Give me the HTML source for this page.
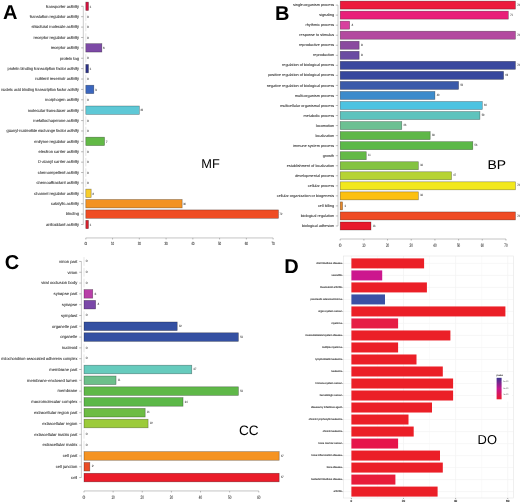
<!DOCTYPE html><html><head><meta charset="utf-8"><style>html,body{margin:0;padding:0;background:#fff;width:520px;height:502px;overflow:hidden}svg{display:block;will-change:transform}text{font-family:"Liberation Sans",sans-serif;text-rendering:geometricPrecision}.lb{stroke:#2a2a2a;stroke-width:0.06px}</style></head><body>
<svg width="520" height="502" viewBox="0 0 520 502">
<rect width="520" height="502" fill="#fff"/>
<line x1="83.3" y1="6.3" x2="83.3" y2="224.49" stroke="#b5b5b5" stroke-width="0.7"/>
<line x1="81.1" y1="6.3" x2="83.3" y2="6.3" stroke="#8a8a8a" stroke-width="0.6"/>
<text class="lb" x="79" y="7.6" font-size="4.05" text-anchor="end" fill="#2a2a2a">transporter activity</text>
<rect x="85.8" y="2.1" width="2.68" height="8.4" fill="#d3123f" stroke="rgba(0,0,0,0.42)" stroke-width="0.6"/>
<text x="89.58" y="7.5" font-size="3.2" fill="#444" stroke="#444" stroke-width="0.08">1</text>
<line x1="81.1" y1="16.69" x2="83.3" y2="16.69" stroke="#8a8a8a" stroke-width="0.6"/>
<text class="lb" x="79" y="17.99" font-size="4.05" text-anchor="end" fill="#2a2a2a">translation regulator activity</text>
<line x1="85.8" y1="12.49" x2="85.8" y2="20.89" stroke="#ccc" stroke-width="0.5"/>
<text x="86.9" y="17.89" font-size="3.2" fill="#444" stroke="#444" stroke-width="0.08">0</text>
<line x1="81.1" y1="27.08" x2="83.3" y2="27.08" stroke="#8a8a8a" stroke-width="0.6"/>
<text class="lb" x="79" y="28.38" font-size="4.05" text-anchor="end" fill="#2a2a2a">structural molecule activity</text>
<line x1="85.8" y1="22.88" x2="85.8" y2="31.28" stroke="#ccc" stroke-width="0.5"/>
<text x="86.9" y="28.28" font-size="3.2" fill="#444" stroke="#444" stroke-width="0.08">0</text>
<line x1="81.1" y1="37.47" x2="83.3" y2="37.47" stroke="#8a8a8a" stroke-width="0.6"/>
<text class="lb" x="79" y="38.77" font-size="4.05" text-anchor="end" fill="#2a2a2a">receptor regulator activity</text>
<line x1="85.8" y1="33.27" x2="85.8" y2="41.67" stroke="#ccc" stroke-width="0.5"/>
<text x="86.9" y="38.67" font-size="3.2" fill="#444" stroke="#444" stroke-width="0.08">0</text>
<line x1="81.1" y1="47.86" x2="83.3" y2="47.86" stroke="#8a8a8a" stroke-width="0.6"/>
<text class="lb" x="79" y="49.16" font-size="4.05" text-anchor="end" fill="#2a2a2a">receptor activity</text>
<rect x="85.8" y="43.66" width="16.06" height="8.4" fill="#7d4aa6" stroke="rgba(0,0,0,0.42)" stroke-width="0.6"/>
<text x="102.96" y="49.06" font-size="3.2" fill="#444" stroke="#444" stroke-width="0.08">6</text>
<line x1="81.1" y1="58.25" x2="83.3" y2="58.25" stroke="#8a8a8a" stroke-width="0.6"/>
<text class="lb" x="79" y="59.55" font-size="4.05" text-anchor="end" fill="#2a2a2a">protein tag</text>
<line x1="85.8" y1="54.05" x2="85.8" y2="62.45" stroke="#ccc" stroke-width="0.5"/>
<text x="86.9" y="59.45" font-size="3.2" fill="#444" stroke="#444" stroke-width="0.08">0</text>
<line x1="81.1" y1="68.64" x2="83.3" y2="68.64" stroke="#8a8a8a" stroke-width="0.6"/>
<text class="lb" x="79" y="69.94" font-size="4.05" text-anchor="end" fill="#2a2a2a" textLength="71.5" lengthAdjust="spacingAndGlyphs">protein binding transcription factor activity</text>
<rect x="85.8" y="64.44" width="2.68" height="8.4" fill="#2b3187" stroke="rgba(0,0,0,0.42)" stroke-width="0.6"/>
<text x="89.58" y="69.84" font-size="3.2" fill="#444" stroke="#444" stroke-width="0.08">1</text>
<line x1="81.1" y1="79.03" x2="83.3" y2="79.03" stroke="#8a8a8a" stroke-width="0.6"/>
<text class="lb" x="79" y="80.33" font-size="4.05" text-anchor="end" fill="#2a2a2a">nutrient reservoir activity</text>
<line x1="85.8" y1="74.83" x2="85.8" y2="83.23" stroke="#ccc" stroke-width="0.5"/>
<text x="86.9" y="80.23" font-size="3.2" fill="#444" stroke="#444" stroke-width="0.08">0</text>
<line x1="81.1" y1="89.42" x2="83.3" y2="89.42" stroke="#8a8a8a" stroke-width="0.6"/>
<text class="lb" x="79" y="90.72" font-size="4.05" text-anchor="end" fill="#2a2a2a" textLength="77.8" lengthAdjust="spacingAndGlyphs">nucleic acid binding transcription factor activity</text>
<rect x="85.8" y="85.22" width="8.03" height="8.4" fill="#3a66be" stroke="rgba(0,0,0,0.42)" stroke-width="0.6"/>
<text x="94.93" y="90.62" font-size="3.2" fill="#444" stroke="#444" stroke-width="0.08">3</text>
<line x1="81.1" y1="99.81" x2="83.3" y2="99.81" stroke="#8a8a8a" stroke-width="0.6"/>
<text class="lb" x="79" y="101.11" font-size="4.05" text-anchor="end" fill="#2a2a2a">morphogen activity</text>
<line x1="85.8" y1="95.61" x2="85.8" y2="104.01" stroke="#ccc" stroke-width="0.5"/>
<text x="86.9" y="101.01" font-size="3.2" fill="#444" stroke="#444" stroke-width="0.08">0</text>
<line x1="81.1" y1="110.2" x2="83.3" y2="110.2" stroke="#8a8a8a" stroke-width="0.6"/>
<text class="lb" x="79" y="111.5" font-size="4.05" text-anchor="end" fill="#2a2a2a">molecular transducer activity</text>
<rect x="85.8" y="106" width="53.52" height="8.4" fill="#5ec8d6" stroke="rgba(0,0,0,0.42)" stroke-width="0.6"/>
<text x="140.42" y="111.4" font-size="3.2" fill="#444" stroke="#444" stroke-width="0.08" textLength="2.7" lengthAdjust="spacingAndGlyphs">20</text>
<line x1="81.1" y1="120.59" x2="83.3" y2="120.59" stroke="#8a8a8a" stroke-width="0.6"/>
<text class="lb" x="79" y="121.89" font-size="4.05" text-anchor="end" fill="#2a2a2a">metallochaperone activity</text>
<line x1="85.8" y1="116.39" x2="85.8" y2="124.79" stroke="#ccc" stroke-width="0.5"/>
<text x="86.9" y="121.79" font-size="3.2" fill="#444" stroke="#444" stroke-width="0.08">0</text>
<line x1="81.1" y1="130.98" x2="83.3" y2="130.98" stroke="#8a8a8a" stroke-width="0.6"/>
<text class="lb" x="79" y="132.28" font-size="4.05" text-anchor="end" fill="#2a2a2a" textLength="72.5" lengthAdjust="spacingAndGlyphs">guanyl-nucleotide exchange factor activity</text>
<line x1="85.8" y1="126.78" x2="85.8" y2="135.18" stroke="#ccc" stroke-width="0.5"/>
<text x="86.9" y="132.18" font-size="3.2" fill="#444" stroke="#444" stroke-width="0.08">0</text>
<line x1="81.1" y1="141.37" x2="83.3" y2="141.37" stroke="#8a8a8a" stroke-width="0.6"/>
<text class="lb" x="79" y="142.67" font-size="4.05" text-anchor="end" fill="#2a2a2a">enzyme regulator activity</text>
<rect x="85.8" y="137.17" width="18.73" height="8.4" fill="#62b946" stroke="rgba(0,0,0,0.42)" stroke-width="0.6"/>
<text x="105.63" y="142.57" font-size="3.2" fill="#444" stroke="#444" stroke-width="0.08">7</text>
<line x1="81.1" y1="151.76" x2="83.3" y2="151.76" stroke="#8a8a8a" stroke-width="0.6"/>
<text class="lb" x="79" y="153.06" font-size="4.05" text-anchor="end" fill="#2a2a2a">electron carrier activity</text>
<line x1="85.8" y1="147.56" x2="85.8" y2="155.96" stroke="#ccc" stroke-width="0.5"/>
<text x="86.9" y="152.96" font-size="3.2" fill="#444" stroke="#444" stroke-width="0.08">0</text>
<line x1="81.1" y1="162.15" x2="83.3" y2="162.15" stroke="#8a8a8a" stroke-width="0.6"/>
<text class="lb" x="79" y="163.45" font-size="4.05" text-anchor="end" fill="#2a2a2a">D-alanyl carrier activity</text>
<line x1="85.8" y1="157.95" x2="85.8" y2="166.35" stroke="#ccc" stroke-width="0.5"/>
<text x="86.9" y="163.35" font-size="3.2" fill="#444" stroke="#444" stroke-width="0.08">0</text>
<line x1="81.1" y1="172.54" x2="83.3" y2="172.54" stroke="#8a8a8a" stroke-width="0.6"/>
<text class="lb" x="79" y="173.84" font-size="4.05" text-anchor="end" fill="#2a2a2a">chemorepellent activity</text>
<line x1="85.8" y1="168.34" x2="85.8" y2="176.74" stroke="#ccc" stroke-width="0.5"/>
<text x="86.9" y="173.74" font-size="3.2" fill="#444" stroke="#444" stroke-width="0.08">0</text>
<line x1="81.1" y1="182.93" x2="83.3" y2="182.93" stroke="#8a8a8a" stroke-width="0.6"/>
<text class="lb" x="79" y="184.23" font-size="4.05" text-anchor="end" fill="#2a2a2a">chemoattractant activity</text>
<line x1="85.8" y1="178.73" x2="85.8" y2="187.13" stroke="#ccc" stroke-width="0.5"/>
<text x="86.9" y="184.13" font-size="3.2" fill="#444" stroke="#444" stroke-width="0.08">0</text>
<line x1="81.1" y1="193.32" x2="83.3" y2="193.32" stroke="#8a8a8a" stroke-width="0.6"/>
<text class="lb" x="79" y="194.62" font-size="4.05" text-anchor="end" fill="#2a2a2a">channel regulator activity</text>
<rect x="85.8" y="189.12" width="5.35" height="8.4" fill="#f7cd2c" stroke="rgba(0,0,0,0.42)" stroke-width="0.6"/>
<text x="92.25" y="194.52" font-size="3.2" fill="#444" stroke="#444" stroke-width="0.08">2</text>
<line x1="81.1" y1="203.71" x2="83.3" y2="203.71" stroke="#8a8a8a" stroke-width="0.6"/>
<text class="lb" x="79" y="205.01" font-size="4.05" text-anchor="end" fill="#2a2a2a">catalytic activity</text>
<rect x="85.8" y="199.51" width="96.34" height="8.4" fill="#f39222" stroke="rgba(0,0,0,0.42)" stroke-width="0.6"/>
<text x="183.24" y="204.91" font-size="3.2" fill="#444" stroke="#444" stroke-width="0.08" textLength="2.7" lengthAdjust="spacingAndGlyphs">36</text>
<line x1="81.1" y1="214.1" x2="83.3" y2="214.1" stroke="#8a8a8a" stroke-width="0.6"/>
<text class="lb" x="79" y="215.4" font-size="4.05" text-anchor="end" fill="#2a2a2a">binding</text>
<rect x="85.8" y="209.9" width="192.67" height="8.4" fill="#ef4d24" stroke="rgba(0,0,0,0.42)" stroke-width="0.6"/>
<text x="279.57" y="215.3" font-size="3.2" fill="#444" stroke="#444" stroke-width="0.08" textLength="2.7" lengthAdjust="spacingAndGlyphs">72</text>
<line x1="81.1" y1="224.49" x2="83.3" y2="224.49" stroke="#8a8a8a" stroke-width="0.6"/>
<text class="lb" x="79" y="225.79" font-size="4.05" text-anchor="end" fill="#2a2a2a">antioxidant activity</text>
<rect x="85.8" y="220.29" width="2.68" height="8.4" fill="#d7202c" stroke="rgba(0,0,0,0.42)" stroke-width="0.6"/>
<text x="89.58" y="225.69" font-size="3.2" fill="#444" stroke="#444" stroke-width="0.08">1</text>
<line x1="85.8" y1="237.95" x2="273.12" y2="237.95" stroke="#c4c4c4" stroke-width="1.0"/>
<line x1="85.8" y1="237.95" x2="85.8" y2="239.45" stroke="#8a8a8a" stroke-width="0.6"/>
<text class="lb" x="85.8" y="244.85" font-size="4.6" text-anchor="middle" fill="#2a2a2a">0</text>
<line x1="112.56" y1="237.95" x2="112.56" y2="239.45" stroke="#8a8a8a" stroke-width="0.6"/>
<text class="lb" x="112.56" y="244.85" font-size="4.6" text-anchor="middle" fill="#2a2a2a" textLength="3.3" lengthAdjust="spacingAndGlyphs">10</text>
<line x1="139.32" y1="237.95" x2="139.32" y2="239.45" stroke="#8a8a8a" stroke-width="0.6"/>
<text class="lb" x="139.32" y="244.85" font-size="4.6" text-anchor="middle" fill="#2a2a2a" textLength="3.3" lengthAdjust="spacingAndGlyphs">20</text>
<line x1="166.08" y1="237.95" x2="166.08" y2="239.45" stroke="#8a8a8a" stroke-width="0.6"/>
<text class="lb" x="166.08" y="244.85" font-size="4.6" text-anchor="middle" fill="#2a2a2a" textLength="3.3" lengthAdjust="spacingAndGlyphs">30</text>
<line x1="192.84" y1="237.95" x2="192.84" y2="239.45" stroke="#8a8a8a" stroke-width="0.6"/>
<text class="lb" x="192.84" y="244.85" font-size="4.6" text-anchor="middle" fill="#2a2a2a" textLength="3.3" lengthAdjust="spacingAndGlyphs">40</text>
<line x1="219.6" y1="237.95" x2="219.6" y2="239.45" stroke="#8a8a8a" stroke-width="0.6"/>
<text class="lb" x="219.6" y="244.85" font-size="4.6" text-anchor="middle" fill="#2a2a2a" textLength="3.3" lengthAdjust="spacingAndGlyphs">50</text>
<line x1="246.36" y1="237.95" x2="246.36" y2="239.45" stroke="#8a8a8a" stroke-width="0.6"/>
<text class="lb" x="246.36" y="244.85" font-size="4.6" text-anchor="middle" fill="#2a2a2a" textLength="3.3" lengthAdjust="spacingAndGlyphs">60</text>
<line x1="273.12" y1="237.95" x2="273.12" y2="239.45" stroke="#8a8a8a" stroke-width="0.6"/>
<text class="lb" x="273.12" y="244.85" font-size="4.6" text-anchor="middle" fill="#2a2a2a" textLength="3.3" lengthAdjust="spacingAndGlyphs">70</text>
<line x1="338" y1="5.1" x2="338" y2="225.98" stroke="#b5b5b5" stroke-width="0.7"/>
<line x1="335.8" y1="5.1" x2="338" y2="5.1" stroke="#8a8a8a" stroke-width="0.6"/>
<text class="lb" x="334.2" y="6.2" font-size="3.8" text-anchor="end" fill="#2a2a2a">single-organism process</text>
<rect x="340.2" y="1.1" width="175.23" height="8" fill="#ec1b3d" stroke="rgba(0,0,0,0.42)" stroke-width="0.6"/>
<text x="517.23" y="5.7" font-size="3.2" fill="#444" stroke="#444" stroke-width="0.08" textLength="2.7" lengthAdjust="spacingAndGlyphs">74</text>
<line x1="335.8" y1="15.14" x2="338" y2="15.14" stroke="#8a8a8a" stroke-width="0.6"/>
<text class="lb" x="334.2" y="16.24" font-size="3.8" text-anchor="end" fill="#2a2a2a">signaling</text>
<rect x="340.2" y="11.14" width="168.13" height="8" fill="#e91e79" stroke="rgba(0,0,0,0.42)" stroke-width="0.6"/>
<text x="510.13" y="15.74" font-size="3.2" fill="#444" stroke="#444" stroke-width="0.08" textLength="2.7" lengthAdjust="spacingAndGlyphs">71</text>
<line x1="335.8" y1="25.18" x2="338" y2="25.18" stroke="#8a8a8a" stroke-width="0.6"/>
<text class="lb" x="334.2" y="26.28" font-size="3.8" text-anchor="end" fill="#2a2a2a">rhythmic process</text>
<rect x="340.2" y="21.18" width="9.47" height="8" fill="#d8409e" stroke="rgba(0,0,0,0.42)" stroke-width="0.6"/>
<text x="351.47" y="25.78" font-size="3.2" fill="#444" stroke="#444" stroke-width="0.08">4</text>
<line x1="335.8" y1="35.22" x2="338" y2="35.22" stroke="#8a8a8a" stroke-width="0.6"/>
<text class="lb" x="334.2" y="36.32" font-size="3.8" text-anchor="end" fill="#2a2a2a">response to stimulus</text>
<rect x="340.2" y="31.22" width="175.23" height="8" fill="#b34a9f" stroke="rgba(0,0,0,0.42)" stroke-width="0.6"/>
<text x="517.23" y="35.82" font-size="3.2" fill="#444" stroke="#444" stroke-width="0.08" textLength="2.7" lengthAdjust="spacingAndGlyphs">74</text>
<line x1="335.8" y1="45.26" x2="338" y2="45.26" stroke="#8a8a8a" stroke-width="0.6"/>
<text class="lb" x="334.2" y="46.36" font-size="3.8" text-anchor="end" fill="#2a2a2a">reproductive process</text>
<rect x="340.2" y="41.26" width="18.94" height="8" fill="#8a4a9f" stroke="rgba(0,0,0,0.42)" stroke-width="0.6"/>
<text x="360.94" y="45.86" font-size="3.2" fill="#444" stroke="#444" stroke-width="0.08">8</text>
<line x1="335.8" y1="55.3" x2="338" y2="55.3" stroke="#8a8a8a" stroke-width="0.6"/>
<text class="lb" x="334.2" y="56.4" font-size="3.8" text-anchor="end" fill="#2a2a2a">reproduction</text>
<rect x="340.2" y="51.3" width="18.94" height="8" fill="#6a4ca2" stroke="rgba(0,0,0,0.42)" stroke-width="0.6"/>
<text x="360.94" y="55.9" font-size="3.2" fill="#444" stroke="#444" stroke-width="0.08">8</text>
<line x1="335.8" y1="65.34" x2="338" y2="65.34" stroke="#8a8a8a" stroke-width="0.6"/>
<text class="lb" x="334.2" y="66.44" font-size="3.8" text-anchor="end" fill="#2a2a2a">regulation of biological process</text>
<rect x="340.2" y="61.34" width="175.23" height="8" fill="#3a489e" stroke="rgba(0,0,0,0.42)" stroke-width="0.6"/>
<text x="517.23" y="65.94" font-size="3.2" fill="#444" stroke="#444" stroke-width="0.08" textLength="2.7" lengthAdjust="spacingAndGlyphs">74</text>
<line x1="335.8" y1="75.38" x2="338" y2="75.38" stroke="#8a8a8a" stroke-width="0.6"/>
<text class="lb" x="334.2" y="76.48" font-size="3.8" text-anchor="end" fill="#2a2a2a">positive regulation of biological process</text>
<rect x="340.2" y="71.38" width="163.39" height="8" fill="#36479d" stroke="rgba(0,0,0,0.42)" stroke-width="0.6"/>
<text x="505.39" y="75.98" font-size="3.2" fill="#444" stroke="#444" stroke-width="0.08" textLength="2.7" lengthAdjust="spacingAndGlyphs">69</text>
<line x1="335.8" y1="85.42" x2="338" y2="85.42" stroke="#8a8a8a" stroke-width="0.6"/>
<text class="lb" x="334.2" y="86.52" font-size="3.8" text-anchor="end" fill="#2a2a2a">negative regulation of biological process</text>
<rect x="340.2" y="81.42" width="118.4" height="8" fill="#3a5aa9" stroke="rgba(0,0,0,0.42)" stroke-width="0.6"/>
<text x="460.4" y="86.02" font-size="3.2" fill="#444" stroke="#444" stroke-width="0.08" textLength="2.7" lengthAdjust="spacingAndGlyphs">50</text>
<line x1="335.8" y1="95.46" x2="338" y2="95.46" stroke="#8a8a8a" stroke-width="0.6"/>
<text class="lb" x="334.2" y="96.56" font-size="3.8" text-anchor="end" fill="#2a2a2a">multi-organism process</text>
<rect x="340.2" y="91.46" width="94.72" height="8" fill="#3d8bcb" stroke="rgba(0,0,0,0.42)" stroke-width="0.6"/>
<text x="436.72" y="96.06" font-size="3.2" fill="#444" stroke="#444" stroke-width="0.08" textLength="2.7" lengthAdjust="spacingAndGlyphs">40</text>
<line x1="335.8" y1="105.5" x2="338" y2="105.5" stroke="#8a8a8a" stroke-width="0.6"/>
<text class="lb" x="334.2" y="106.6" font-size="3.8" text-anchor="end" fill="#2a2a2a">multicellular organismal process</text>
<rect x="340.2" y="101.5" width="142.08" height="8" fill="#4cc3e1" stroke="rgba(0,0,0,0.42)" stroke-width="0.6"/>
<text x="484.08" y="106.1" font-size="3.2" fill="#444" stroke="#444" stroke-width="0.08" textLength="2.7" lengthAdjust="spacingAndGlyphs">60</text>
<line x1="335.8" y1="115.54" x2="338" y2="115.54" stroke="#8a8a8a" stroke-width="0.6"/>
<text class="lb" x="334.2" y="116.64" font-size="3.8" text-anchor="end" fill="#2a2a2a">metabolic process</text>
<rect x="340.2" y="111.54" width="139.71" height="8" fill="#5ec3bd" stroke="rgba(0,0,0,0.42)" stroke-width="0.6"/>
<text x="481.71" y="116.14" font-size="3.2" fill="#444" stroke="#444" stroke-width="0.08" textLength="2.7" lengthAdjust="spacingAndGlyphs">59</text>
<line x1="335.8" y1="125.58" x2="338" y2="125.58" stroke="#8a8a8a" stroke-width="0.6"/>
<text class="lb" x="334.2" y="126.68" font-size="3.8" text-anchor="end" fill="#2a2a2a">locomotion</text>
<rect x="340.2" y="121.58" width="61.57" height="8" fill="#6cc092" stroke="rgba(0,0,0,0.42)" stroke-width="0.6"/>
<text x="403.57" y="126.18" font-size="3.2" fill="#444" stroke="#444" stroke-width="0.08" textLength="2.7" lengthAdjust="spacingAndGlyphs">26</text>
<line x1="335.8" y1="135.62" x2="338" y2="135.62" stroke="#8a8a8a" stroke-width="0.6"/>
<text class="lb" x="334.2" y="136.72" font-size="3.8" text-anchor="end" fill="#2a2a2a">localization</text>
<rect x="340.2" y="131.62" width="89.98" height="8" fill="#5fb748" stroke="rgba(0,0,0,0.42)" stroke-width="0.6"/>
<text x="431.98" y="136.22" font-size="3.2" fill="#444" stroke="#444" stroke-width="0.08" textLength="2.7" lengthAdjust="spacingAndGlyphs">38</text>
<line x1="335.8" y1="145.66" x2="338" y2="145.66" stroke="#8a8a8a" stroke-width="0.6"/>
<text class="lb" x="334.2" y="146.76" font-size="3.8" text-anchor="end" fill="#2a2a2a">immune system process</text>
<rect x="340.2" y="141.66" width="132.61" height="8" fill="#5cb848" stroke="rgba(0,0,0,0.42)" stroke-width="0.6"/>
<text x="474.61" y="146.26" font-size="3.2" fill="#444" stroke="#444" stroke-width="0.08" textLength="2.7" lengthAdjust="spacingAndGlyphs">56</text>
<line x1="335.8" y1="155.7" x2="338" y2="155.7" stroke="#8a8a8a" stroke-width="0.6"/>
<text class="lb" x="334.2" y="156.8" font-size="3.8" text-anchor="end" fill="#2a2a2a">growth</text>
<rect x="340.2" y="151.7" width="26.05" height="8" fill="#63b946" stroke="rgba(0,0,0,0.42)" stroke-width="0.6"/>
<text x="368.05" y="156.3" font-size="3.2" fill="#444" stroke="#444" stroke-width="0.08" textLength="2.7" lengthAdjust="spacingAndGlyphs">11</text>
<line x1="335.8" y1="165.74" x2="338" y2="165.74" stroke="#8a8a8a" stroke-width="0.6"/>
<text class="lb" x="334.2" y="166.84" font-size="3.8" text-anchor="end" fill="#2a2a2a">establishment of localization</text>
<rect x="340.2" y="161.74" width="78.14" height="8" fill="#84c341" stroke="rgba(0,0,0,0.42)" stroke-width="0.6"/>
<text x="420.14" y="166.34" font-size="3.2" fill="#444" stroke="#444" stroke-width="0.08" textLength="2.7" lengthAdjust="spacingAndGlyphs">33</text>
<line x1="335.8" y1="175.78" x2="338" y2="175.78" stroke="#8a8a8a" stroke-width="0.6"/>
<text class="lb" x="334.2" y="176.88" font-size="3.8" text-anchor="end" fill="#2a2a2a">developmental process</text>
<rect x="340.2" y="171.78" width="111.3" height="8" fill="#b6d334" stroke="rgba(0,0,0,0.42)" stroke-width="0.6"/>
<text x="453.3" y="176.38" font-size="3.2" fill="#444" stroke="#444" stroke-width="0.08" textLength="2.7" lengthAdjust="spacingAndGlyphs">47</text>
<line x1="335.8" y1="185.82" x2="338" y2="185.82" stroke="#8a8a8a" stroke-width="0.6"/>
<text class="lb" x="334.2" y="186.92" font-size="3.8" text-anchor="end" fill="#2a2a2a">cellular process</text>
<rect x="340.2" y="181.82" width="175.23" height="8" fill="#f2e81d" stroke="rgba(0,0,0,0.42)" stroke-width="0.6"/>
<text x="517.23" y="186.42" font-size="3.2" fill="#444" stroke="#444" stroke-width="0.08" textLength="2.7" lengthAdjust="spacingAndGlyphs">74</text>
<line x1="335.8" y1="195.86" x2="338" y2="195.86" stroke="#8a8a8a" stroke-width="0.6"/>
<text class="lb" x="334.2" y="196.96" font-size="3.8" text-anchor="end" fill="#2a2a2a">cellular organization or biogenesis</text>
<rect x="340.2" y="191.86" width="78.14" height="8" fill="#fcc011" stroke="rgba(0,0,0,0.42)" stroke-width="0.6"/>
<text x="420.14" y="196.46" font-size="3.2" fill="#444" stroke="#444" stroke-width="0.08" textLength="2.7" lengthAdjust="spacingAndGlyphs">33</text>
<line x1="335.8" y1="205.9" x2="338" y2="205.9" stroke="#8a8a8a" stroke-width="0.6"/>
<text class="lb" x="334.2" y="207" font-size="3.8" text-anchor="end" fill="#2a2a2a">cell killing</text>
<rect x="340.2" y="201.9" width="2.37" height="8" fill="#e8892a" stroke="rgba(0,0,0,0.42)" stroke-width="0.6"/>
<text x="344.37" y="206.5" font-size="3.2" fill="#444" stroke="#444" stroke-width="0.08">1</text>
<line x1="335.8" y1="215.94" x2="338" y2="215.94" stroke="#8a8a8a" stroke-width="0.6"/>
<text class="lb" x="334.2" y="217.04" font-size="3.8" text-anchor="end" fill="#2a2a2a">biological regulation</text>
<rect x="340.2" y="211.94" width="175.23" height="8" fill="#ef4b24" stroke="rgba(0,0,0,0.42)" stroke-width="0.6"/>
<text x="517.23" y="216.54" font-size="3.2" fill="#444" stroke="#444" stroke-width="0.08" textLength="2.7" lengthAdjust="spacingAndGlyphs">74</text>
<line x1="335.8" y1="225.98" x2="338" y2="225.98" stroke="#8a8a8a" stroke-width="0.6"/>
<text class="lb" x="334.2" y="227.08" font-size="3.8" text-anchor="end" fill="#2a2a2a">biological adhesion</text>
<rect x="340.2" y="221.98" width="30.78" height="8" fill="#e8192c" stroke="rgba(0,0,0,0.42)" stroke-width="0.6"/>
<text x="372.78" y="226.58" font-size="3.2" fill="#444" stroke="#444" stroke-width="0.08" textLength="2.7" lengthAdjust="spacingAndGlyphs">13</text>
<line x1="340.2" y1="239" x2="505.96" y2="239" stroke="#c4c4c4" stroke-width="1.0"/>
<line x1="340.2" y1="239" x2="340.2" y2="240.5" stroke="#8a8a8a" stroke-width="0.6"/>
<text class="lb" x="340.2" y="246.7" font-size="5.0" text-anchor="middle" fill="#2a2a2a">0</text>
<line x1="363.88" y1="239" x2="363.88" y2="240.5" stroke="#8a8a8a" stroke-width="0.6"/>
<text class="lb" x="363.88" y="246.7" font-size="5.0" text-anchor="middle" fill="#2a2a2a" textLength="3.3" lengthAdjust="spacingAndGlyphs">10</text>
<line x1="387.56" y1="239" x2="387.56" y2="240.5" stroke="#8a8a8a" stroke-width="0.6"/>
<text class="lb" x="387.56" y="246.7" font-size="5.0" text-anchor="middle" fill="#2a2a2a" textLength="3.3" lengthAdjust="spacingAndGlyphs">20</text>
<line x1="411.24" y1="239" x2="411.24" y2="240.5" stroke="#8a8a8a" stroke-width="0.6"/>
<text class="lb" x="411.24" y="246.7" font-size="5.0" text-anchor="middle" fill="#2a2a2a" textLength="3.3" lengthAdjust="spacingAndGlyphs">30</text>
<line x1="434.92" y1="239" x2="434.92" y2="240.5" stroke="#8a8a8a" stroke-width="0.6"/>
<text class="lb" x="434.92" y="246.7" font-size="5.0" text-anchor="middle" fill="#2a2a2a" textLength="3.3" lengthAdjust="spacingAndGlyphs">40</text>
<line x1="458.6" y1="239" x2="458.6" y2="240.5" stroke="#8a8a8a" stroke-width="0.6"/>
<text class="lb" x="458.6" y="246.7" font-size="5.0" text-anchor="middle" fill="#2a2a2a" textLength="3.3" lengthAdjust="spacingAndGlyphs">50</text>
<line x1="482.28" y1="239" x2="482.28" y2="240.5" stroke="#8a8a8a" stroke-width="0.6"/>
<text class="lb" x="482.28" y="246.7" font-size="5.0" text-anchor="middle" fill="#2a2a2a" textLength="3.3" lengthAdjust="spacingAndGlyphs">60</text>
<line x1="505.96" y1="239" x2="505.96" y2="240.5" stroke="#8a8a8a" stroke-width="0.6"/>
<text class="lb" x="505.96" y="246.7" font-size="5.0" text-anchor="middle" fill="#2a2a2a" textLength="3.3" lengthAdjust="spacingAndGlyphs">70</text>
<line x1="81.4" y1="261.45" x2="81.4" y2="477.55" stroke="#b5b5b5" stroke-width="0.7"/>
<line x1="79.2" y1="261.45" x2="81.4" y2="261.45" stroke="#8a8a8a" stroke-width="0.6"/>
<text class="lb" x="77.3" y="262.75" font-size="4.15" text-anchor="end" fill="#2a2a2a">virion part</text>
<line x1="84" y1="257.15" x2="84" y2="265.75" stroke="#ccc" stroke-width="0.5"/>
<text x="85.8" y="262.15" font-size="3.2" fill="#444" stroke="#444" stroke-width="0.08">0</text>
<line x1="79.2" y1="272.25" x2="81.4" y2="272.25" stroke="#8a8a8a" stroke-width="0.6"/>
<text class="lb" x="77.3" y="273.56" font-size="4.15" text-anchor="end" fill="#2a2a2a">virion</text>
<line x1="84" y1="267.95" x2="84" y2="276.56" stroke="#ccc" stroke-width="0.5"/>
<text x="85.8" y="272.95" font-size="3.2" fill="#444" stroke="#444" stroke-width="0.08">0</text>
<line x1="79.2" y1="283.06" x2="81.4" y2="283.06" stroke="#8a8a8a" stroke-width="0.6"/>
<text class="lb" x="77.3" y="284.36" font-size="4.15" text-anchor="end" fill="#2a2a2a">viral occlusion body</text>
<line x1="84" y1="278.76" x2="84" y2="287.36" stroke="#ccc" stroke-width="0.5"/>
<text x="85.8" y="283.76" font-size="3.2" fill="#444" stroke="#444" stroke-width="0.08">0</text>
<line x1="79.2" y1="293.87" x2="81.4" y2="293.87" stroke="#8a8a8a" stroke-width="0.6"/>
<text class="lb" x="77.3" y="295.17" font-size="4.15" text-anchor="end" fill="#2a2a2a">synapse part</text>
<rect x="84" y="289.56" width="8.74" height="8.6" fill="#b83fa8" stroke="rgba(0,0,0,0.42)" stroke-width="0.6"/>
<text x="94.54" y="294.56" font-size="3.2" fill="#444" stroke="#444" stroke-width="0.08">3</text>
<line x1="79.2" y1="304.67" x2="81.4" y2="304.67" stroke="#8a8a8a" stroke-width="0.6"/>
<text class="lb" x="77.3" y="305.97" font-size="4.15" text-anchor="end" fill="#2a2a2a">synapse</text>
<rect x="84" y="300.37" width="11.65" height="8.6" fill="#7a48a8" stroke="rgba(0,0,0,0.42)" stroke-width="0.6"/>
<text x="97.45" y="305.37" font-size="3.2" fill="#444" stroke="#444" stroke-width="0.08">4</text>
<line x1="79.2" y1="315.47" x2="81.4" y2="315.47" stroke="#8a8a8a" stroke-width="0.6"/>
<text class="lb" x="77.3" y="316.77" font-size="4.15" text-anchor="end" fill="#2a2a2a">symplast</text>
<line x1="84" y1="311.17" x2="84" y2="319.77" stroke="#ccc" stroke-width="0.5"/>
<text x="85.8" y="316.17" font-size="3.2" fill="#444" stroke="#444" stroke-width="0.08">0</text>
<line x1="79.2" y1="326.28" x2="81.4" y2="326.28" stroke="#8a8a8a" stroke-width="0.6"/>
<text class="lb" x="77.3" y="327.58" font-size="4.15" text-anchor="end" fill="#2a2a2a">organelle part</text>
<rect x="84" y="321.98" width="93.22" height="8.6" fill="#3450a2" stroke="rgba(0,0,0,0.42)" stroke-width="0.6"/>
<text x="179.02" y="326.98" font-size="3.2" fill="#444" stroke="#444" stroke-width="0.08" textLength="2.7" lengthAdjust="spacingAndGlyphs">32</text>
<line x1="79.2" y1="337.08" x2="81.4" y2="337.08" stroke="#8a8a8a" stroke-width="0.6"/>
<text class="lb" x="77.3" y="338.38" font-size="4.15" text-anchor="end" fill="#2a2a2a">organelle</text>
<rect x="84" y="332.78" width="154.39" height="8.6" fill="#3450a2" stroke="rgba(0,0,0,0.42)" stroke-width="0.6"/>
<text x="240.19" y="337.78" font-size="3.2" fill="#444" stroke="#444" stroke-width="0.08" textLength="2.7" lengthAdjust="spacingAndGlyphs">53</text>
<line x1="79.2" y1="347.89" x2="81.4" y2="347.89" stroke="#8a8a8a" stroke-width="0.6"/>
<text class="lb" x="77.3" y="349.19" font-size="4.15" text-anchor="end" fill="#2a2a2a">nucleoid</text>
<line x1="84" y1="343.59" x2="84" y2="352.19" stroke="#ccc" stroke-width="0.5"/>
<text x="85.8" y="348.59" font-size="3.2" fill="#444" stroke="#444" stroke-width="0.08">0</text>
<line x1="79.2" y1="358.69" x2="81.4" y2="358.69" stroke="#8a8a8a" stroke-width="0.6"/>
<text class="lb" x="77.3" y="360" font-size="4.15" text-anchor="end" fill="#2a2a2a" textLength="76.0" lengthAdjust="spacingAndGlyphs">mitochondrion-associated adherens complex</text>
<line x1="84" y1="354.39" x2="84" y2="363" stroke="#ccc" stroke-width="0.5"/>
<text x="85.8" y="359.39" font-size="3.2" fill="#444" stroke="#444" stroke-width="0.08">0</text>
<line x1="79.2" y1="369.5" x2="81.4" y2="369.5" stroke="#8a8a8a" stroke-width="0.6"/>
<text class="lb" x="77.3" y="370.8" font-size="4.15" text-anchor="end" fill="#2a2a2a">membrane part</text>
<rect x="84" y="365.2" width="107.78" height="8.6" fill="#66cbbd" stroke="rgba(0,0,0,0.42)" stroke-width="0.6"/>
<text x="193.58" y="370.2" font-size="3.2" fill="#444" stroke="#444" stroke-width="0.08" textLength="2.7" lengthAdjust="spacingAndGlyphs">37</text>
<line x1="79.2" y1="380.3" x2="81.4" y2="380.3" stroke="#8a8a8a" stroke-width="0.6"/>
<text class="lb" x="77.3" y="381.6" font-size="4.15" text-anchor="end" fill="#2a2a2a">membrane-enclosed lumen</text>
<rect x="84" y="376" width="32.04" height="8.6" fill="#6cbf8a" stroke="rgba(0,0,0,0.42)" stroke-width="0.6"/>
<text x="117.84" y="381" font-size="3.2" fill="#444" stroke="#444" stroke-width="0.08" textLength="2.7" lengthAdjust="spacingAndGlyphs">11</text>
<line x1="79.2" y1="391.11" x2="81.4" y2="391.11" stroke="#8a8a8a" stroke-width="0.6"/>
<text class="lb" x="77.3" y="392.41" font-size="4.15" text-anchor="end" fill="#2a2a2a">membrane</text>
<rect x="84" y="386.81" width="154.39" height="8.6" fill="#5fb848" stroke="rgba(0,0,0,0.42)" stroke-width="0.6"/>
<text x="240.19" y="391.81" font-size="3.2" fill="#444" stroke="#444" stroke-width="0.08" textLength="2.7" lengthAdjust="spacingAndGlyphs">53</text>
<line x1="79.2" y1="401.91" x2="81.4" y2="401.91" stroke="#8a8a8a" stroke-width="0.6"/>
<text class="lb" x="77.3" y="403.21" font-size="4.15" text-anchor="end" fill="#2a2a2a">macromolecular complex</text>
<rect x="84" y="397.61" width="99.04" height="8.6" fill="#5cb848" stroke="rgba(0,0,0,0.42)" stroke-width="0.6"/>
<text x="184.84" y="402.61" font-size="3.2" fill="#444" stroke="#444" stroke-width="0.08" textLength="2.7" lengthAdjust="spacingAndGlyphs">34</text>
<line x1="79.2" y1="412.72" x2="81.4" y2="412.72" stroke="#8a8a8a" stroke-width="0.6"/>
<text class="lb" x="77.3" y="414.02" font-size="4.15" text-anchor="end" fill="#2a2a2a">extracellular region part</text>
<rect x="84" y="408.42" width="61.17" height="8.6" fill="#6dbc44" stroke="rgba(0,0,0,0.42)" stroke-width="0.6"/>
<text x="146.97" y="413.42" font-size="3.2" fill="#444" stroke="#444" stroke-width="0.08" textLength="2.7" lengthAdjust="spacingAndGlyphs">21</text>
<line x1="79.2" y1="423.52" x2="81.4" y2="423.52" stroke="#8a8a8a" stroke-width="0.6"/>
<text class="lb" x="77.3" y="424.82" font-size="4.15" text-anchor="end" fill="#2a2a2a">extracellular region</text>
<rect x="84" y="419.22" width="64.09" height="8.6" fill="#9ccb3b" stroke="rgba(0,0,0,0.42)" stroke-width="0.6"/>
<text x="149.89" y="424.22" font-size="3.2" fill="#444" stroke="#444" stroke-width="0.08" textLength="2.7" lengthAdjust="spacingAndGlyphs">22</text>
<line x1="79.2" y1="434.33" x2="81.4" y2="434.33" stroke="#8a8a8a" stroke-width="0.6"/>
<text class="lb" x="77.3" y="435.63" font-size="4.15" text-anchor="end" fill="#2a2a2a">extracellular matrix part</text>
<line x1="84" y1="430.03" x2="84" y2="438.63" stroke="#ccc" stroke-width="0.5"/>
<text x="85.8" y="435.03" font-size="3.2" fill="#444" stroke="#444" stroke-width="0.08">0</text>
<line x1="79.2" y1="445.13" x2="81.4" y2="445.13" stroke="#8a8a8a" stroke-width="0.6"/>
<text class="lb" x="77.3" y="446.44" font-size="4.15" text-anchor="end" fill="#2a2a2a">extracellular matrix</text>
<line x1="84" y1="440.83" x2="84" y2="449.44" stroke="#ccc" stroke-width="0.5"/>
<text x="85.8" y="445.83" font-size="3.2" fill="#444" stroke="#444" stroke-width="0.08">0</text>
<line x1="79.2" y1="455.94" x2="81.4" y2="455.94" stroke="#8a8a8a" stroke-width="0.6"/>
<text class="lb" x="77.3" y="457.24" font-size="4.15" text-anchor="end" fill="#2a2a2a">cell part</text>
<rect x="84" y="451.64" width="195.17" height="8.6" fill="#f59322" stroke="rgba(0,0,0,0.42)" stroke-width="0.6"/>
<text x="280.97" y="456.64" font-size="3.2" fill="#444" stroke="#444" stroke-width="0.08" textLength="2.7" lengthAdjust="spacingAndGlyphs">67</text>
<line x1="79.2" y1="466.75" x2="81.4" y2="466.75" stroke="#8a8a8a" stroke-width="0.6"/>
<text class="lb" x="77.3" y="468.05" font-size="4.15" text-anchor="end" fill="#2a2a2a">cell junction</text>
<rect x="84" y="462.44" width="5.83" height="8.6" fill="#ea4d26" stroke="rgba(0,0,0,0.42)" stroke-width="0.6"/>
<text x="91.63" y="467.44" font-size="3.2" fill="#444" stroke="#444" stroke-width="0.08">2</text>
<line x1="79.2" y1="477.55" x2="81.4" y2="477.55" stroke="#8a8a8a" stroke-width="0.6"/>
<text class="lb" x="77.3" y="478.85" font-size="4.15" text-anchor="end" fill="#2a2a2a">cell</text>
<rect x="84" y="473.25" width="195.17" height="8.6" fill="#ea1d2a" stroke="rgba(0,0,0,0.42)" stroke-width="0.6"/>
<text x="280.97" y="478.25" font-size="3.2" fill="#444" stroke="#444" stroke-width="0.08" textLength="2.7" lengthAdjust="spacingAndGlyphs">67</text>
<line x1="84" y1="490.95" x2="258.78" y2="490.95" stroke="#c4c4c4" stroke-width="1.0"/>
<line x1="84" y1="490.95" x2="84" y2="492.45" stroke="#8a8a8a" stroke-width="0.6"/>
<text class="lb" x="84" y="498.55" font-size="5.0" text-anchor="middle" fill="#2a2a2a">0</text>
<line x1="113.13" y1="490.95" x2="113.13" y2="492.45" stroke="#8a8a8a" stroke-width="0.6"/>
<text class="lb" x="113.13" y="498.55" font-size="5.0" text-anchor="middle" fill="#2a2a2a" textLength="3.3" lengthAdjust="spacingAndGlyphs">10</text>
<line x1="142.26" y1="490.95" x2="142.26" y2="492.45" stroke="#8a8a8a" stroke-width="0.6"/>
<text class="lb" x="142.26" y="498.55" font-size="5.0" text-anchor="middle" fill="#2a2a2a" textLength="3.3" lengthAdjust="spacingAndGlyphs">20</text>
<line x1="171.39" y1="490.95" x2="171.39" y2="492.45" stroke="#8a8a8a" stroke-width="0.6"/>
<text class="lb" x="171.39" y="498.55" font-size="5.0" text-anchor="middle" fill="#2a2a2a" textLength="3.3" lengthAdjust="spacingAndGlyphs">30</text>
<line x1="200.52" y1="490.95" x2="200.52" y2="492.45" stroke="#8a8a8a" stroke-width="0.6"/>
<text class="lb" x="200.52" y="498.55" font-size="5.0" text-anchor="middle" fill="#2a2a2a" textLength="3.3" lengthAdjust="spacingAndGlyphs">40</text>
<line x1="229.65" y1="490.95" x2="229.65" y2="492.45" stroke="#8a8a8a" stroke-width="0.6"/>
<text class="lb" x="229.65" y="498.55" font-size="5.0" text-anchor="middle" fill="#2a2a2a" textLength="3.3" lengthAdjust="spacingAndGlyphs">50</text>
<line x1="258.78" y1="490.95" x2="258.78" y2="492.45" stroke="#8a8a8a" stroke-width="0.6"/>
<text class="lb" x="258.78" y="498.55" font-size="5.0" text-anchor="middle" fill="#2a2a2a" textLength="3.3" lengthAdjust="spacingAndGlyphs">60</text>
<rect x="343.4" y="256.0" width="169.89999999999998" height="242.0" fill="#fff"/>
<line x1="351.4" y1="256.0" x2="351.4" y2="498.0" stroke="#f2f2f2" stroke-width="0.7"/>
<line x1="377.45" y1="256.0" x2="377.45" y2="498.0" stroke="#f7f7f7" stroke-width="0.5"/>
<line x1="403.5" y1="256.0" x2="403.5" y2="498.0" stroke="#f2f2f2" stroke-width="0.7"/>
<line x1="429.55" y1="256.0" x2="429.55" y2="498.0" stroke="#f7f7f7" stroke-width="0.5"/>
<line x1="455.6" y1="256.0" x2="455.6" y2="498.0" stroke="#f2f2f2" stroke-width="0.7"/>
<line x1="481.65" y1="256.0" x2="481.65" y2="498.0" stroke="#f7f7f7" stroke-width="0.5"/>
<line x1="507.7" y1="256.0" x2="507.7" y2="498.0" stroke="#f2f2f2" stroke-width="0.7"/>
<line x1="343.4" y1="263.4" x2="513.3" y2="263.4" stroke="#f3f3f3" stroke-width="0.7"/>
<line x1="343.4" y1="275.41" x2="513.3" y2="275.41" stroke="#f3f3f3" stroke-width="0.7"/>
<line x1="343.4" y1="287.42" x2="513.3" y2="287.42" stroke="#f3f3f3" stroke-width="0.7"/>
<line x1="343.4" y1="299.43" x2="513.3" y2="299.43" stroke="#f3f3f3" stroke-width="0.7"/>
<line x1="343.4" y1="311.44" x2="513.3" y2="311.44" stroke="#f3f3f3" stroke-width="0.7"/>
<line x1="343.4" y1="323.45" x2="513.3" y2="323.45" stroke="#f3f3f3" stroke-width="0.7"/>
<line x1="343.4" y1="335.46" x2="513.3" y2="335.46" stroke="#f3f3f3" stroke-width="0.7"/>
<line x1="343.4" y1="347.47" x2="513.3" y2="347.47" stroke="#f3f3f3" stroke-width="0.7"/>
<line x1="343.4" y1="359.48" x2="513.3" y2="359.48" stroke="#f3f3f3" stroke-width="0.7"/>
<line x1="343.4" y1="371.49" x2="513.3" y2="371.49" stroke="#f3f3f3" stroke-width="0.7"/>
<line x1="343.4" y1="383.5" x2="513.3" y2="383.5" stroke="#f3f3f3" stroke-width="0.7"/>
<line x1="343.4" y1="395.51" x2="513.3" y2="395.51" stroke="#f3f3f3" stroke-width="0.7"/>
<line x1="343.4" y1="407.52" x2="513.3" y2="407.52" stroke="#f3f3f3" stroke-width="0.7"/>
<line x1="343.4" y1="419.53" x2="513.3" y2="419.53" stroke="#f3f3f3" stroke-width="0.7"/>
<line x1="343.4" y1="431.54" x2="513.3" y2="431.54" stroke="#f3f3f3" stroke-width="0.7"/>
<line x1="343.4" y1="443.55" x2="513.3" y2="443.55" stroke="#f3f3f3" stroke-width="0.7"/>
<line x1="343.4" y1="455.56" x2="513.3" y2="455.56" stroke="#f3f3f3" stroke-width="0.7"/>
<line x1="343.4" y1="467.57" x2="513.3" y2="467.57" stroke="#f3f3f3" stroke-width="0.7"/>
<line x1="343.4" y1="479.58" x2="513.3" y2="479.58" stroke="#f3f3f3" stroke-width="0.7"/>
<line x1="343.4" y1="491.59" x2="513.3" y2="491.59" stroke="#f3f3f3" stroke-width="0.7"/>
<rect x="351.4" y="258.4" width="72.7" height="10" fill="#eb1f27"/>
<line x1="342.1" y1="263.4" x2="343.4" y2="263.4" stroke="#777" stroke-width="0.5"/>
<text transform="translate(341.8 264.3) scale(0.255 0.25)" x="0" y="0" font-size="10" text-anchor="end" fill="#555" stroke="#555" stroke-width="0.6">viral infectious disease</text>
<rect x="351.4" y="270.41" width="30.8" height="10" fill="#cc178e"/>
<line x1="342.1" y1="275.41" x2="343.4" y2="275.41" stroke="#777" stroke-width="0.5"/>
<text transform="translate(341.8 276.31) scale(0.255 0.25)" x="0" y="0" font-size="10" text-anchor="end" fill="#555" stroke="#555" stroke-width="0.6">vasculitis</text>
<rect x="351.4" y="282.42" width="75.5" height="10" fill="#eb1f27"/>
<line x1="342.1" y1="287.42" x2="343.4" y2="287.42" stroke="#777" stroke-width="0.5"/>
<text transform="translate(341.8 288.32) scale(0.255 0.25)" x="0" y="0" font-size="10" text-anchor="end" fill="#555" stroke="#555" stroke-width="0.6">rheumatoid arthritis</text>
<rect x="351.4" y="294.43" width="33.6" height="10" fill="#3b51a4"/>
<line x1="342.1" y1="299.43" x2="343.4" y2="299.43" stroke="#777" stroke-width="0.5"/>
<text transform="translate(341.8 300.33) scale(0.255 0.25)" x="0" y="0" font-size="10" text-anchor="end" fill="#555" stroke="#555" stroke-width="0.6">pancreatic adenocarcinoma</text>
<rect x="351.4" y="306.44" width="154" height="10" fill="#eb1f27"/>
<line x1="342.1" y1="311.44" x2="343.4" y2="311.44" stroke="#777" stroke-width="0.5"/>
<text transform="translate(341.8 312.34) scale(0.255 0.25)" x="0" y="0" font-size="10" text-anchor="end" fill="#555" stroke="#555" stroke-width="0.6">organ system cancer</text>
<rect x="351.4" y="318.45" width="46.7" height="10" fill="#e61c45"/>
<line x1="342.1" y1="323.45" x2="343.4" y2="323.45" stroke="#777" stroke-width="0.5"/>
<text transform="translate(341.8 324.35) scale(0.255 0.25)" x="0" y="0" font-size="10" text-anchor="end" fill="#555" stroke="#555" stroke-width="0.6">myeloma</text>
<rect x="351.4" y="330.46" width="99" height="10" fill="#eb1f27"/>
<line x1="342.1" y1="335.46" x2="343.4" y2="335.46" stroke="#777" stroke-width="0.5"/>
<text transform="translate(341.8 336.36) scale(0.255 0.25)" x="0" y="0" font-size="10" text-anchor="end" fill="#555" stroke="#555" stroke-width="0.6">musculoskeletal system disease</text>
<rect x="351.4" y="342.47" width="46.7" height="10" fill="#eb1f27"/>
<line x1="342.1" y1="347.47" x2="343.4" y2="347.47" stroke="#777" stroke-width="0.5"/>
<text transform="translate(341.8 348.37) scale(0.255 0.25)" x="0" y="0" font-size="10" text-anchor="end" fill="#555" stroke="#555" stroke-width="0.6">multiple myeloma</text>
<rect x="351.4" y="354.48" width="65.1" height="10" fill="#eb1f27"/>
<line x1="342.1" y1="359.48" x2="343.4" y2="359.48" stroke="#777" stroke-width="0.5"/>
<text transform="translate(341.8 360.38) scale(0.255 0.25)" x="0" y="0" font-size="10" text-anchor="end" fill="#555" stroke="#555" stroke-width="0.6">lymphoblastic leukemia</text>
<rect x="351.4" y="366.49" width="91.4" height="10" fill="#eb1f27"/>
<line x1="342.1" y1="371.49" x2="343.4" y2="371.49" stroke="#777" stroke-width="0.5"/>
<text transform="translate(341.8 372.39) scale(0.255 0.25)" x="0" y="0" font-size="10" text-anchor="end" fill="#555" stroke="#555" stroke-width="0.6">leukemia</text>
<rect x="351.4" y="378.5" width="101.7" height="10" fill="#eb1f27"/>
<line x1="342.1" y1="383.5" x2="343.4" y2="383.5" stroke="#777" stroke-width="0.5"/>
<text transform="translate(341.8 384.4) scale(0.255 0.25)" x="0" y="0" font-size="10" text-anchor="end" fill="#555" stroke="#555" stroke-width="0.6">immune system cancer</text>
<rect x="351.4" y="390.51" width="101.7" height="10" fill="#eb1f27"/>
<line x1="342.1" y1="395.51" x2="343.4" y2="395.51" stroke="#777" stroke-width="0.5"/>
<text transform="translate(341.8 396.41) scale(0.255 0.25)" x="0" y="0" font-size="10" text-anchor="end" fill="#555" stroke="#555" stroke-width="0.6">hematologic cancer</text>
<rect x="351.4" y="402.52" width="80.6" height="10" fill="#eb1f27"/>
<line x1="342.1" y1="407.52" x2="343.4" y2="407.52" stroke="#777" stroke-width="0.5"/>
<text transform="translate(341.8 408.42) scale(0.255 0.25)" x="0" y="0" font-size="10" text-anchor="end" fill="#555" stroke="#555" stroke-width="0.6">disease by infectious agent</text>
<rect x="351.4" y="414.53" width="57.1" height="10" fill="#eb1f27"/>
<line x1="342.1" y1="419.53" x2="343.4" y2="419.53" stroke="#777" stroke-width="0.5"/>
<text transform="translate(341.8 420.43) scale(0.255 0.25)" x="0" y="0" font-size="10" text-anchor="end" fill="#555" stroke="#555" stroke-width="0.6">chronic lymphocytic leukemia</text>
<rect x="351.4" y="426.54" width="62.3" height="10" fill="#eb1f27"/>
<line x1="342.1" y1="431.54" x2="343.4" y2="431.54" stroke="#777" stroke-width="0.5"/>
<text transform="translate(341.8 432.44) scale(0.255 0.25)" x="0" y="0" font-size="10" text-anchor="end" fill="#555" stroke="#555" stroke-width="0.6">chronic leukemia</text>
<rect x="351.4" y="438.55" width="46.7" height="10" fill="#e6144b"/>
<line x1="342.1" y1="443.55" x2="343.4" y2="443.55" stroke="#777" stroke-width="0.5"/>
<text transform="translate(341.8 444.45) scale(0.255 0.25)" x="0" y="0" font-size="10" text-anchor="end" fill="#555" stroke="#555" stroke-width="0.6">bone marrow cancer</text>
<rect x="351.4" y="450.56" width="88.6" height="10" fill="#eb1f27"/>
<line x1="342.1" y1="455.56" x2="343.4" y2="455.56" stroke="#777" stroke-width="0.5"/>
<text transform="translate(341.8 456.46) scale(0.255 0.25)" x="0" y="0" font-size="10" text-anchor="end" fill="#555" stroke="#555" stroke-width="0.6">bone inflammation disease</text>
<rect x="351.4" y="462.57" width="91.4" height="10" fill="#eb1f27"/>
<line x1="342.1" y1="467.57" x2="343.4" y2="467.57" stroke="#777" stroke-width="0.5"/>
<text transform="translate(341.8 468.47) scale(0.255 0.25)" x="0" y="0" font-size="10" text-anchor="end" fill="#555" stroke="#555" stroke-width="0.6">bone disease</text>
<rect x="351.4" y="474.58" width="44" height="10" fill="#e81c3a"/>
<line x1="342.1" y1="479.58" x2="343.4" y2="479.58" stroke="#777" stroke-width="0.5"/>
<text transform="translate(341.8 480.48) scale(0.255 0.25)" x="0" y="0" font-size="10" text-anchor="end" fill="#555" stroke="#555" stroke-width="0.6">bacterial infectious disease</text>
<rect x="351.4" y="486.59" width="86.2" height="10" fill="#eb1f27"/>
<line x1="342.1" y1="491.59" x2="343.4" y2="491.59" stroke="#777" stroke-width="0.5"/>
<text transform="translate(341.8 492.49) scale(0.255 0.25)" x="0" y="0" font-size="10" text-anchor="end" fill="#555" stroke="#555" stroke-width="0.6">arthritis</text>
<rect x="343.4" y="256.0" width="169.9" height="242" fill="none" stroke="#e4e4e4" stroke-width="0.6"/>
<line x1="351.4" y1="498.0" x2="351.4" y2="498.8" stroke="#333" stroke-width="0.5"/>
<text x="351.4" y="501.9" font-size="3.0" text-anchor="middle" fill="#333" stroke="#333" stroke-width="0.15">0</text>
<line x1="403.5" y1="498.0" x2="403.5" y2="498.8" stroke="#333" stroke-width="0.5"/>
<text x="403.5" y="501.9" font-size="3.0" text-anchor="middle" fill="#333" stroke="#333" stroke-width="0.15">20</text>
<line x1="455.6" y1="498.0" x2="455.6" y2="498.8" stroke="#333" stroke-width="0.5"/>
<text x="455.6" y="501.9" font-size="3.0" text-anchor="middle" fill="#333" stroke="#333" stroke-width="0.15">40</text>
<line x1="507.7" y1="498.0" x2="507.7" y2="498.8" stroke="#333" stroke-width="0.5"/>
<text x="507.7" y="501.9" font-size="3.0" text-anchor="middle" fill="#333" stroke="#333" stroke-width="0.15">60</text>
<defs><linearGradient id="lg" x1="0" y1="0" x2="0" y2="1"><stop offset="0" stop-color="#3a3590"/><stop offset="0.5" stop-color="#c4168e"/><stop offset="1" stop-color="#ea1b2c"/></linearGradient></defs>
<rect x="494.5" y="372.5" width="17.5" height="29" fill="#fff"/>
<rect x="496.6" y="377.8" width="5.0" height="21.5" fill="url(#lg)"/>
<text x="496.6" y="376.3" font-size="2.2" fill="#444" stroke="#444" stroke-width="0.1">pvalue</text>
<line x1="501.6" y1="381.7" x2="502.6" y2="381.7" stroke="#fff" stroke-width="0.3"/>
<text x="503.2" y="382.4" font-size="2.1" fill="#555">1e-15</text>
<line x1="501.6" y1="387.9" x2="502.6" y2="387.9" stroke="#fff" stroke-width="0.3"/>
<text x="503.2" y="388.6" font-size="2.1" fill="#555">2e-15</text>
<line x1="501.6" y1="393.9" x2="502.6" y2="393.9" stroke="#fff" stroke-width="0.3"/>
<text x="503.2" y="394.6" font-size="2.1" fill="#555">3e-15</text>
<text x="3.0" y="18.5" font-size="20" font-weight="bold" fill="#000">A</text>
<text x="275.1" y="20.3" font-size="20" font-weight="bold" fill="#000">B</text>
<text x="4.8" y="268.5" font-size="20" font-weight="bold" fill="#000">C</text>
<text x="284.3" y="272.8" font-size="20" font-weight="bold" fill="#000">D</text>
<text x="201.3" y="168.0" font-size="12.8" fill="#000">MF</text>
<text x="487.5" y="168.9" font-size="12.8" fill="#000" textLength="18.6" lengthAdjust="spacingAndGlyphs">BP</text>
<text x="238.9" y="435.2" font-size="13.6" fill="#000">CC</text>
<text x="477.6" y="444.3" font-size="12.9" fill="#000">DO</text>
</svg></body></html>
